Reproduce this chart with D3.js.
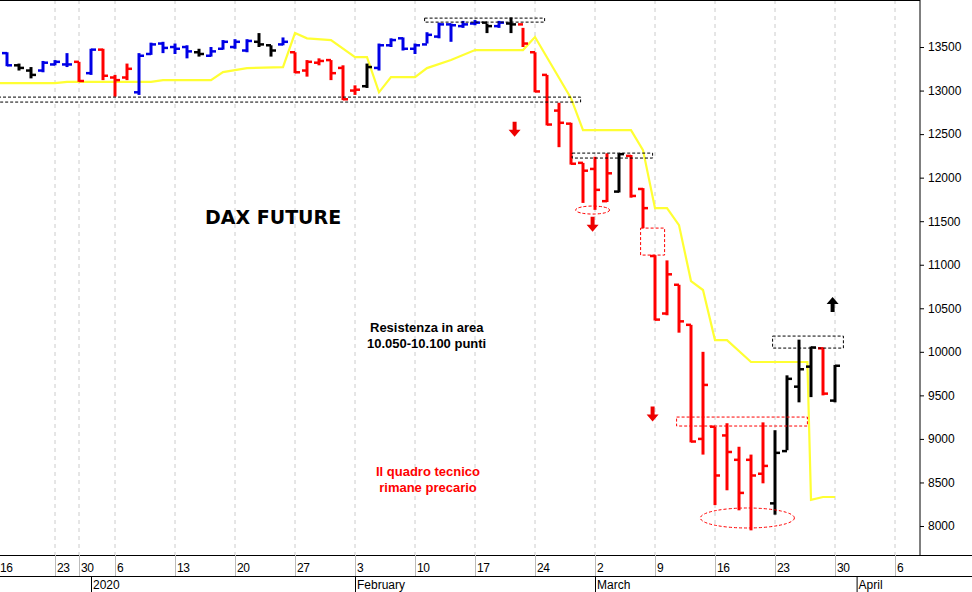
<!DOCTYPE html>
<html><head><meta charset="utf-8">
<script src="https://cdn.jsdelivr.net/npm/d3@7"></script>
<style>body{margin:0;background:#fff}svg{display:block;font-family:"Liberation Sans",Arial,sans-serif}</style>
</head><body><svg id="c" width="972" height="592"></svg>
<script>
// trading-day index, OHLC, colour
const opens  = [13400,13430,13290,13230,13230,13300,13300,13330,13200,13470,13150,13150,12980,13420,13540,13500,13500,13440,13400,13480,13500,13460,13560,13520,13530,13440,13230,13320,13350,13260,13000,13050,13260,13520,13600,13480,13530,13620,13760,13740,13770,13780,13740,13770,13760,13440,13180,12770,12620,12170,12100,11730,11840,12250,11870,11100,10440,10770,10310,9000,9140,9040,8760,8760,8600,8260,8860,9600,9830,10040,9440];
const highs  = [13440,13440,13310,13270,13340,13350,13430,13330,13480,13480,13180,13310,13430,13550,13560,13540,13520,13480,13500,13580,13590,13590,13660,13520,13610,13440,13350,13370,13350,13290,13060,13310,13540,13600,13610,13540,13670,13780,13770,13800,13810,13770,13800,13840,13720,13440,13180,12860,12630,12170,12240,12280,12280,12260,11880,11110,11050,10770,10310,10000,9140,9180,8910,8820,9190,9100,9730,10140,10060,10050,9850];
const lows   = [13320,13280,13230,13140,13210,13290,13270,13100,13180,13120,12930,13120,12950,13410,13430,13420,13370,13390,13390,13470,13480,13440,13500,13390,13520,13200,13160,13290,13120,12890,12950,13030,13230,13500,13460,13420,13540,13600,13560,13720,13750,13660,13720,13660,13500,12980,12600,12350,12150,11710,11630,11720,11830,11770,11420,10360,10420,10220,8960,8820,8240,8410,8180,7950,8490,8130,8870,9420,9480,9500,9420];
const closes = [13360,13290,13260,13180,13320,13330,13300,13110,13470,13170,13120,13250,13400,13530,13490,13480,13450,13420,13450,13560,13560,13570,13530,13460,13560,13210,13330,13340,13200,12900,13010,13270,13520,13580,13480,13520,13640,13760,13750,13760,13780,13740,13780,13760,13540,12990,12610,12630,12160,12080,11860,12050,12270,11790,11650,10370,10890,10350,8970,9620,8580,8850,8380,8580,8690,8840,9690,9800,10050,9520,9840];
const colours = "bbkkbbbrbrrrbbbbbkbbbbkkbrrrrrrkbbbbbbbbbkbkrrrrrrrrkrrrrrrrrrrrrkkkkrk";
// yellow trailing line: [index, value]
const yellowLine = [[-1,13086],[5,13086],[6,13100],[13,13100],[14,13120],[18,13120],[19,13212],[21,13258],[24,13270],[25,13660],[26,13600],[28,13580],[30,13385],[31,13385],[32,12980],[33,13155],[35,13155],[36,13258],[38,13350],[40,13465],[44,13465],[45,13615],[48,12913],[49,12546],[53,12546],[54,12316],[55,11650],[56,11650],[57,11455],[58,10813],[59,10710],[60,10135],[61,10135],[63,9883],[67.7,9883],[68,8300],[69,8333],[70,8333]];
// Mondays (index) and their labels
const weekIdx = [0,5,7,10,15,20,25,30,35,40,45,50,55,60,65,70,75];
const weekLabels = ["16","23","30","6","13","20","27","3","10","17","24","2","9","16","23","30","6"];
const monthIdx = [8,30,50,71.8];
const monthLabels = ["2020","February","March","April"];
const yTicks = d3.range(8000, 14000, 500);

const svg = d3.select("#c");
const W = 920, H = 555;
const x = d3.scaleLinear().domain([0, 1]).range([-5, 7]);
const y = d3.scaleLinear().domain([7667, 14040]).range([H, 0]);
const colMap = {b: "#0000e6", k: "#000", r: "#f00"};

// vertical gridlines
svg.append("g").selectAll("line").data(weekIdx).join("line")
  .attr("x1", d => x(d)).attr("x2", d => x(d)).attr("y1", 0).attr("y2", H)
  .attr("stroke", "#ccc").attr("stroke-dasharray", "4,4");

// frame
svg.append("line").attr("x1", 0).attr("x2", W).attr("y1", 0.5).attr("y2", 0.5).attr("stroke", "#000");
svg.append("line").attr("x1", 0).attr("x2", W + 52).attr("y1", H + 0.5).attr("y2", H + 0.5).attr("stroke", "#000");
svg.append("line").attr("x1", 0).attr("x2", W + 52).attr("y1", 576.5).attr("y2", 576.5).attr("stroke", "#000");

// right axis
const ya = svg.append("g").attr("transform", `translate(${W},0)`)
  .call(d3.axisRight(y).tickValues(yTicks).tickSize(4).tickFormat(d3.format("d")));
ya.select(".domain").attr("d", `M0,0V${H}`);
ya.selectAll("text").attr("font-size", 12).attr("font-family", "Liberation Sans").attr("x", 8);

// bottom date labels
const bx = svg.append("g");
bx.selectAll("line").data(weekIdx).join("line")
  .attr("x1", d => x(d) + 0.5).attr("x2", d => x(d) + 0.5).attr("y1", H).attr("y2", 576).attr("stroke", "#bbb");
bx.selectAll("text").data(weekIdx).join("text")
  .attr("x", d => Math.max(x(d) + 2, 0)).attr("y", 572).attr("font-size", 12)
  .text((d, i) => weekLabels[i])
  .attr("textLength", (d, i) => weekLabels[i].length * 6.5);
const mx = svg.append("g");
mx.selectAll("line").data(monthIdx).join("line")
  .attr("x1", d => x(d) + 0.5).attr("x2", d => x(d) + 0.5).attr("y1", 576).attr("y2", 592).attr("stroke", "#000");
mx.selectAll("text").data(monthIdx).join("text")
  .attr("x", d => x(d) + 2).attr("y", 589).attr("font-size", 12)
  .text((d, i) => monthLabels[i]);

// yellow line
svg.append("path").datum(yellowLine)
  .attr("d", d3.line().x(d => x(d[0])).y(d => y(d[1])))
  .attr("fill", "none").attr("stroke", "#ffff33").attr("stroke-width", 2.2);

// OHLC bars
const bars = highs.map((h, i) => ({i, o: opens[i], h, l: lows[i], c: closes[i], col: colMap[colours[i]]}));
const g = svg.append("g").attr("stroke-width", 3);
bars.forEach(b => {
  const cx = x(b.i);
  g.append("line").attr("x1", cx).attr("x2", cx).attr("y1", y(b.h)).attr("y2", y(b.l)).attr("stroke", b.col);
  g.append("line").attr("x1", cx - 5).attr("x2", cx).attr("y1", y(b.o)).attr("y2", y(b.o)).attr("stroke", b.col).attr("stroke-width", 2.5);
  g.append("line").attr("x1", cx).attr("x2", cx + 5).attr("y1", y(b.c)).attr("y2", y(b.c)).attr("stroke", b.col).attr("stroke-width", 2.5);
});

// annotation boxes [i0, i1, vTop, vBottom, colour]
const boxes = [[-1, 48.8, 12925, 12868, "#000"], [35.8, 45.8, 13832, 13786, "#000"], [48.1, 54.8, 12282, 12225, "#000"],
  [64.8, 70.7, 10181, 10043, "#000"], [53.8, 55.8, 11421, 11111, "#f00"], [56.8, 67.7, 9251, 9148, "#f00"]];
svg.append("g").selectAll("rect").data(boxes).join("rect")
  .attr("x", d => x(d[0])).attr("width", d => x(d[1]) - x(d[0]))
  .attr("y", d => y(d[2])).attr("height", d => y(d[3]) - y(d[2]))
  .attr("fill", "none").attr("stroke", d => d[4]).attr("stroke-dasharray", "3,2");
const ellipses = [[49.8, 11628, 17, 4], [62.7, 8092, 47, 10]];
svg.append("g").selectAll("ellipse").data(ellipses).join("ellipse")
  .attr("cx", d => x(d[0])).attr("cy", d => y(d[1])).attr("rx", d => d[2]).attr("ry", d => d[3])
  .attr("fill", "none").attr("stroke", "#f00").attr("stroke-dasharray", "3,2");

// arrows [index, value, dir, colour]
const arrows = [[43.3, 12550, 1, "#e00"], [49.8, 11460, 1, "#e00"], [54.8, 9280, 1, "#e00"], [69.8, 10550, -1, "#000"]];
arrows.forEach(a => {
  const cx = x(a[0]), cy = y(a[1]), s = a[2];
  svg.append("path").attr("fill", a[3])
    .attr("d", `M${cx - 2},${cy - 8 * s}L${cx + 2},${cy - 8 * s}L${cx + 2},${cy}L${cx + 6},${cy}L${cx},${cy + 7 * s}L${cx - 6},${cy}L${cx - 2},${cy}Z`);
});

// texts
svg.append("text").attr("x", 205).attr("y", 224).attr("font-size", 19).attr("font-weight", "bold")
  .attr("font-family", "DejaVu Sans").text("DAX FUTURE");
svg.append("text").attr("x", 370).attr("y", 332).attr("font-size", 13).attr("font-weight", "bold").text("Resistenza in area");
svg.append("text").attr("x", 367).attr("y", 348).attr("font-size", 13).attr("font-weight", "bold").text("10.050-10.100 punti");
svg.append("text").attr("x", 428).attr("y", 476).attr("text-anchor", "middle").attr("font-size", 13).attr("font-weight", "bold").attr("fill", "#f00").text("Il quadro tecnico");
svg.append("text").attr("x", 428).attr("y", 492).attr("text-anchor", "middle").attr("font-size", 13).attr("font-weight", "bold").attr("fill", "#f00").text("rimane precario");
</script></body></html>
